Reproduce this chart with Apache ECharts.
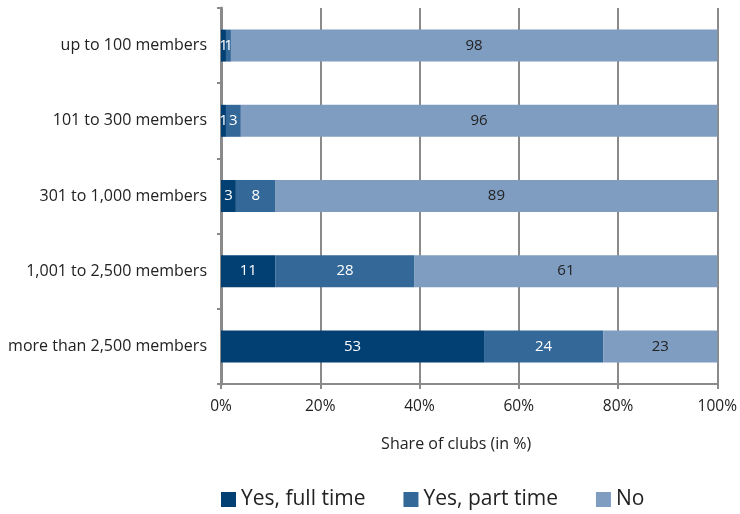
<!DOCTYPE html>
<html>
<head>
<meta charset="utf-8">
<script src="https://cdn.jsdelivr.net/npm/echarts@6/dist/echarts.min.js"></script>
<style>
  html, body { margin: 0; padding: 0; background: #fff; }
  #chart { width: 740px; height: 514px; }
</style>
</head>
<body>
<div id="chart"></div>
<script>
// Club size classes (top to bottom)
const categories = [
  'up to 100 members',
  '101 to 300 members',
  '301 to 1,000 members',
  '1,001 to 2,500 members',
  'more than 2,500 members'
];
// Share of clubs in percent per answer
const fullTime = [1, 1, 3, 11, 53];
const partTime = [1, 3, 8, 28, 24];
const noStaff  = [98, 96, 89, 61, 23];
const seriesNames = ['Yes, full time', 'Yes, part time', 'No'];
const xTicks = [0, 20, 40, 60, 80, 100];

const FONT = '"Open Sans", "Noto Sans", sans-serif';
const colors = ['#023f73', '#336898', '#7f9dc1'];
const labelColors = ['#ffffff', '#ffffff', '#222222'];

function bar(name, data, i) {
  return {
    name: name,
    type: 'bar',
    stack: 'total',
    data: data,
    barWidth: 32,
    itemStyle: { color: colors[i] },
    label: {
      show: true,
      position: 'inside',
      color: labelColors[i],
      fontFamily: FONT,
      fontSize: 15
    },
    emphasis: { disabled: true }
  };
}

const chart = echarts.init(document.getElementById('chart'));
chart.setOption({
  animation: false,
  color: colors,
  grid: { left: 221, right: 20, top: 8, bottom: 130, containLabel: false },
  legend: {
    data: seriesNames,
    left: 216,
    top: 484,
    itemWidth: 15,
    itemHeight: 15,
    itemGap: 38,
    icon: 'rect',
    textStyle: { fontFamily: FONT, fontSize: 21, color: '#222' }
  },
  xAxis: {
    type: 'value',
    min: xTicks[0],
    max: xTicks[xTicks.length - 1],
    interval: 20,
    name: 'Share of clubs (in %)',
    nameLocation: 'middle',
    nameGap: 52,
    nameTextStyle: {
      fontFamily: FONT, fontSize: 16, color: '#222',
      padding: [0, 26, 0, 0]
    },
    axisLine: { show: true, lineStyle: { color: '#8a8a8a', width: 2 } },
    axisTick: { show: true, length: 5, lineStyle: { color: '#8a8a8a', width: 2 } },
    axisLabel: {
      formatter: '{value}%',
      fontFamily: FONT, fontSize: 15.5, color: '#222', margin: 15
    },
    splitLine: { show: true, lineStyle: { color: '#8a8a8a', width: 2 } }
  },
  yAxis: {
    type: 'category',
    data: categories,
    inverse: true,
    axisLine: { show: true, lineStyle: { color: '#8a8a8a', width: 3 } },
    axisTick: { show: true, length: 4, lineStyle: { color: '#8a8a8a', width: 2 } },
    axisLabel: { fontFamily: FONT, fontSize: 16, color: '#222', margin: 14 },
    splitLine: { show: false }
  },
  series: [
    bar(seriesNames[0], fullTime, 0),
    bar(seriesNames[1], partTime, 1),
    bar(seriesNames[2], noStaff, 2)
  ]
});
</script>
</body>
</html>
